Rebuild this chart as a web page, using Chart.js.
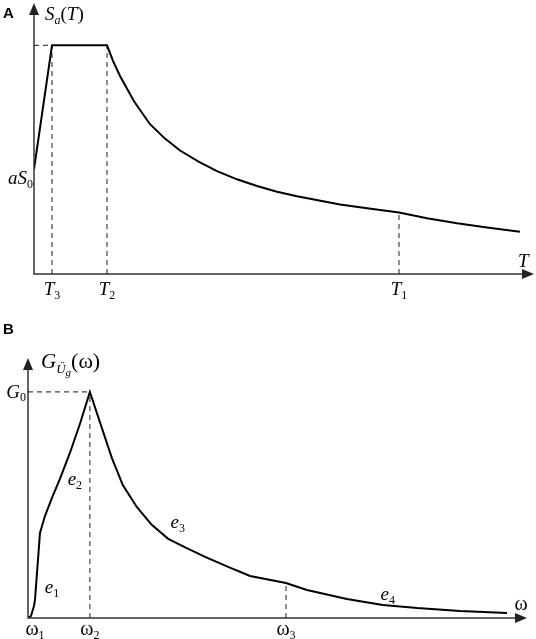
<!DOCTYPE html>
<html lang="zh">
<head>
<meta charset="UTF-8">
<title>Sa(T) / G(ω)</title>
<script src="https://cdn.jsdelivr.net/npm/chart.js"></script>
<style>
    body { margin: 0; background: #fff; }
    .panel { position: absolute; left: 0; width: 536px; }
    #boxA { top: 0; height: 300px; }
    #boxB { top: 300px; height: 339px; }
</style>
</head>
<body>
<div id="boxA" class="panel"><canvas id="chartA"></canvas></div>
<div id="boxB" class="panel"><canvas id="chartB"></canvas></div>
<script>
// A: design response spectrum Sa(T)
const periodT    = [0, 0.216, 0.876, 0.948, 1.032, 1.2, 1.392, 1.572, 1.752, 1.98, 2.196, 2.436, 2.676, 2.916, 3.156, 3.672, 4.02, 4.38, 4.716, 5.076, 5.436, 5.832];
const spectrumSa = [0.458, 1.0, 1.0, 0.932, 0.866, 0.755, 0.655, 0.592, 0.540, 0.490, 0.450, 0.414, 0.385, 0.360, 0.340, 0.304, 0.286, 0.269, 0.244, 0.222, 0.203, 0.185];
const T3 = 0.216, T2 = 0.876, T1 = 4.38;
const aS0 = 0.458, SaMax = 1.0, SaAtT1 = 0.269;

// B: ground acceleration power spectrum G(ω)
const omega = [0, 0.06, 0.12, 0.14, 0.24, 0.34, 0.48, 0.64, 0.84, 1.04, 1.24, 1.68, 1.90, 2.18, 2.48, 2.81, 3.15, 3.55, 4.01, 4.45, 5.17, 5.59, 6.39, 7.11, 7.80, 8.66, 9.60];
const psdG  = [0, 0.009, 0.053, 0.080, 0.376, 0.451, 0.531, 0.615, 0.730, 0.858, 1.0, 0.708, 0.588, 0.491, 0.412, 0.350, 0.312, 0.270, 0.226, 0.186, 0.155, 0.124, 0.084, 0.058, 0.044, 0.031, 0.022];
const w1 = 0.14, w2 = 1.24, w3 = 5.17;
const G0 = 1.0, GAtW3 = 0.155;

const SERIF = '"Liberation Serif", "Times New Roman", serif';
const F = {
    it: 'italic 19px ' + SERIF,
    up: '19px ' + SERIF,
    bigIt: 'italic 21px ' + SERIF,
    bigUp: '22px ' + SERIF,
    om: '20px ' + SERIF,
    sub: '12px ' + SERIF,
    subIt: 'italic 12px ' + SERIF,
    subBig: 'italic 13px ' + SERIF,
    tiny: 'italic 11px ' + SERIF,
    bold: 'bold 15px "Liberation Sans", Arial, sans-serif'
};

function pts(xs, ys) {
    return xs.map((x, i) => ({x: x, y: ys[i]}));
}
function dashed(data) {
    return {data: data, borderColor: '#444', borderWidth: 1.2, borderDash: [5, 4], pointRadius: 0, order: 2};
}
function curve(data) {
    return {data: data, borderColor: '#000', borderWidth: 2, pointRadius: 0, tension: 0, order: 1};
}

function drawParts(ctx, parts, x, y, align) {
    let total = 0;
    parts.forEach(p => { ctx.font = F[p[1]]; total += ctx.measureText(p[0]).width; });
    let cx = align === 'center' ? x - total / 2 : align === 'right' ? x - total : x;
    ctx.textAlign = 'left';
    ctx.textBaseline = 'alphabetic';
    parts.forEach(p => {
        ctx.font = F[p[1]];
        ctx.fillText(p[0], cx, y + (p[2] || 0));
        cx += ctx.measureText(p[0]).width;
    });
}

// axes with arrows + texts, positions come from the chart scales
function sketch(labelsFn, arrow) {
    return {
        id: 'sketch',
        afterDraw(chart) {
            const ctx = chart.ctx, a = chart.chartArea;
            ctx.save();
            ctx.strokeStyle = '#333';
            ctx.fillStyle = '#222';
            ctx.lineWidth = 1.5;
            ctx.beginPath();
            ctx.moveTo(a.left, a.top + arrow);
            ctx.lineTo(a.left, a.bottom);
            ctx.lineTo(a.right - arrow, a.bottom);
            ctx.stroke();
            ctx.beginPath();
            ctx.moveTo(a.left, a.top);
            ctx.lineTo(a.left - 5, a.top + arrow + 1);
            ctx.lineTo(a.left + 5, a.top + arrow + 1);
            ctx.closePath();
            ctx.fill();
            ctx.beginPath();
            ctx.moveTo(a.right, a.bottom);
            ctx.lineTo(a.right - arrow - 1, a.bottom - 5);
            ctx.lineTo(a.right - arrow - 1, a.bottom + 5);
            ctx.closePath();
            ctx.fill();
            ctx.fillStyle = '#000';
            labelsFn(chart).forEach(l => drawParts(ctx, l.parts, l.x, l.y, l.align));
            ctx.restore();
        }
    };
}

function opts(xMax, yMax, pad) {
    return {
        responsive: true,
        maintainAspectRatio: false,
        animation: false,
        layout: {padding: pad},
        plugins: {legend: {display: false}, tooltip: {enabled: false}},
        scales: {
            x: {type: 'linear', min: 0, max: xMax, display: false},
            y: {min: 0, max: yMax, display: false}
        }
    };
}

new Chart(document.getElementById('chartA'), {
    type: 'line',
    data: {datasets: [
        curve(pts(periodT, spectrumSa)),
        dashed([{x: 0, y: SaMax}, {x: T3, y: SaMax}]),
        dashed([{x: T3, y: 0}, {x: T3, y: SaMax}]),
        dashed([{x: T2, y: 0}, {x: T2, y: SaMax}]),
        dashed([{x: T1, y: 0}, {x: T1, y: SaAtT1}])
    ]},
    options: opts(6, 1.185, {left: 34, right: 2, top: 3, bottom: 26}),
    plugins: [sketch(chart => {
        const sx = chart.scales.x, sy = chart.scales.y, a = chart.chartArea;
        const tick = (v, s) => ({x: sx.getPixelForValue(v), y: a.bottom + 21, align: 'center',
            parts: [['T', 'it'], [s, 'sub', 4]]});
        return [
            {x: 3, y: 18, align: 'left', parts: [['A', 'bold']]},
            {x: a.left + 11, y: 20, align: 'left', parts: [['S', 'it'], ['a', 'subIt', 4], ['(', 'up'], ['T', 'it'], [')', 'up']]},
            {x: a.left - 1, y: sy.getPixelForValue(aS0) + 15, align: 'right', parts: [['a', 'it'], ['S', 'it'], ['0', 'sub', 4]]},
            tick(T3, '3'), tick(T2, '2'), tick(T1, '1'),
            {x: a.right - 16, y: a.bottom - 7, align: 'left', parts: [['T', 'it']]}
        ];
    }, 11)]
});

new Chart(document.getElementById('chartB'), {
    type: 'line',
    data: {datasets: [
        curve(pts(omega, psdG)),
        dashed([{x: 0, y: G0}, {x: w2, y: G0}]),
        dashed([{x: w2, y: 0}, {x: w2, y: G0}]),
        dashed([{x: w3, y: 0}, {x: w3, y: GAtW3}])
    ]},
    options: opts(10, 1.15, {left: 28, right: 9, top: 58, bottom: 21}),
    plugins: [sketch(chart => {
        const sx = chart.scales.x, sy = chart.scales.y, a = chart.chartArea;
        const tick = (v, s) => ({x: sx.getPixelForValue(v), y: a.bottom + 17, align: 'center',
            parts: [['ω', 'om'], [s, 'sub', 4]]});
        const e = (v, g, s) => ({x: sx.getPixelForValue(v), y: sy.getPixelForValue(g), align: 'center',
            parts: [['e', 'it'], [s, 'sub', 4]]});
        return [
            {x: 3, y: 34, align: 'left', parts: [['B', 'bold']]},
            {x: a.left + 13, y: 68, align: 'left', parts: [['G', 'bigIt'], ['Ü', 'subBig', 5], ['g', 'tiny', 8], ['(ω)', 'bigUp']]},
            {x: a.left - 2, y: sy.getPixelForValue(G0) + 6, align: 'right', parts: [['G', 'it'], ['0', 'sub', 3]]},
            tick(w1, '1'), tick(w2, '2'), tick(w3, '3'),
            {x: a.right - 6, y: a.bottom - 8, align: 'center', parts: [['ω', 'om']]},
            e(0.48, 0.11, '1'), e(0.94, 0.59, '2'), e(3.0, 0.40, '3'), e(7.21, 0.08, '4')
        ];
    }, 11)]
});
</script>
</body>
</html>
